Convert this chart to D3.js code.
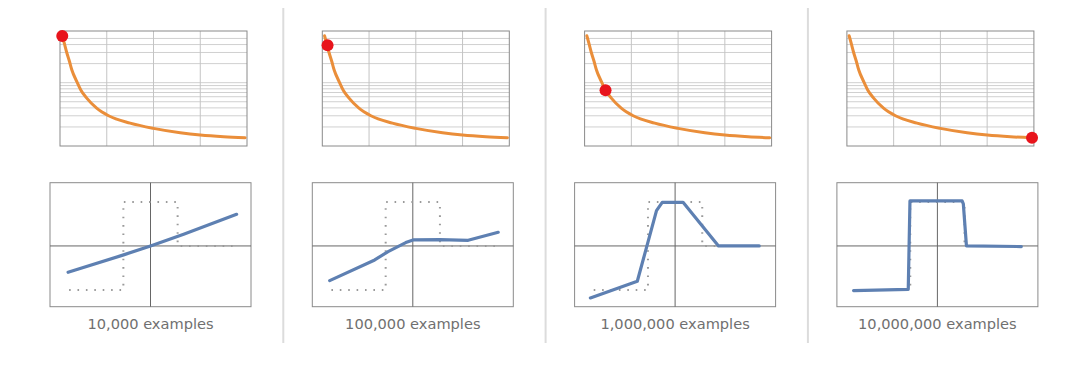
<!DOCTYPE html>
<html>
<head>
<meta charset="utf-8">
<script src="https://cdn.jsdelivr.net/npm/d3@7"></script>
<style>
  body { margin: 0; background: #fff; }
  svg { display: block; }
</style>
</head>
<body>
<div id="chart"></div>
<script>
// panel captions
const captions = ['10,000 examples', '100,000 examples', '1,000,000 examples', '10,000,000 examples'];

// learning curve (top): training examples in millions vs. loss (log scale)
const curveX = [0.12, 0.25, 0.36, 0.5, 0.63, 0.9, 1.12, 1.43, 1.96, 2.6, 3.75, 5.0, 6.43, 7.5, 8.75, 9.9];
const curveY = [55, 40, 30, 22, 16, 10.4, 7.6, 5.7, 3.95, 3.0, 2.3, 1.9, 1.62, 1.49, 1.40, 1.35];

// where the red marker sits on the curve, per panel (millions)
const markerX = [0.12, 0.28, 1.12, 9.9];
const markerY = [54.6, 39, 7.6, 1.35];

// target function (dotted)
const targetX = [-0.81, -0.27, -0.27, 0.27, 0.27, 0.84];
const targetY = [-0.71, -0.71, 0.71, 0.71, 0, 0];

// learned fit (blue), one series per panel
const fitX = [
  [-0.82, -0.26, 0, 0.33, 0.857],
  [-0.827, -0.379, -0.246, -0.07, 0.003, 0.27, 0.551, 0.85],
  [-0.843, -0.376, -0.293, -0.185, -0.128, 0.079, 0.432, 0.837],
  [-0.834, -0.29, -0.273, 0.246, 0.258, 0.289, 0.835]
];
const fitY = [
  [-0.425, -0.14, 0, 0.19, 0.51],
  [-0.559, -0.226, -0.091, 0.054, 0.097, 0.102, 0.091, 0.22],
  [-0.839, -0.57, -0.075, 0.57, 0.704, 0.704, 0, 0],
  [-0.72, -0.70, 0.726, 0.726, 0.68, 0, -0.01]
];

const width = 1080, height = 370;
const step = 262.3;

const svg = d3.select('#chart').append('svg')
  .attr('width', width)
  .attr('height', height);

// separators between panels
for (let i = 0; i < 3; i++) {
  const sx = 283.3 + i * step;
  svg.append('line')
    .attr('x1', sx).attr('x2', sx)
    .attr('y1', 8).attr('y2', 343)
    .attr('stroke', '#dcdcdc')
    .attr('stroke-width', 2);
}

captions.forEach((caption, i) => {
  const ox = 50 + i * step;

  // ---- top: learning curve ----
  const tx = d3.scaleLinear().domain([0, 10]).range([ox + 10, ox + 197]);
  const ty = d3.scaleLog().domain([1, 65.5]).range([146, 31]);
  const top = svg.append('g');

  top.append('g')
    .selectAll('line')
    .data(ty.ticks().filter(t => t > 1 && t < 60))
    .join('line')
    .attr('x1', tx(0)).attr('x2', tx(10))
    .attr('y1', d => ty(d)).attr('y2', d => ty(d))
    .attr('stroke', '#d0d0d0');

  top.append('g')
    .selectAll('line')
    .data([2.5, 5, 7.5])
    .join('line')
    .attr('x1', d => tx(d)).attr('x2', d => tx(d))
    .attr('y1', ty(1)).attr('y2', ty(65.5))
    .attr('stroke', '#c4c4c4');

  top.append('rect')
    .attr('x', tx(0)).attr('y', ty(65.5))
    .attr('width', tx(10) - tx(0)).attr('height', ty(1) - ty(65.5))
    .attr('fill', 'none')
    .attr('stroke', '#8a8a8a');

  const curveLine = d3.line()
    .x((d, j) => tx(curveX[j]))
    .y((d, j) => ty(curveY[j]))
    .curve(d3.curveMonotoneX);

  top.append('path')
    .attr('d', curveLine(curveX))
    .attr('fill', 'none')
    .attr('stroke', '#ea8e3a')
    .attr('stroke-width', 3)
    .attr('stroke-linecap', 'round');

  top.append('circle')
    .attr('cx', tx(markerX[i]))
    .attr('cy', ty(markerY[i]))
    .attr('r', 6)
    .attr('fill', '#e8141c');

  // ---- bottom: target vs learned function ----
  const bx = d3.scaleLinear().domain([-1, 1]).range([ox, ox + 201]);
  const by = d3.scaleLinear().domain([-0.98, 1.02]).range([306.7, 182.7]);
  const bot = svg.append('g');

  bot.append('rect')
    .attr('x', bx(-1)).attr('y', by(1.02))
    .attr('width', bx(1) - bx(-1)).attr('height', by(-0.98) - by(1.02))
    .attr('fill', 'none')
    .attr('stroke', '#8a8a8a');

  bot.append('line')
    .attr('x1', bx(-1)).attr('x2', bx(1))
    .attr('y1', by(0)).attr('y2', by(0))
    .attr('stroke', '#666');
  bot.append('line')
    .attr('x1', bx(0)).attr('x2', bx(0))
    .attr('y1', by(-0.98)).attr('y2', by(1.02))
    .attr('stroke', '#666');

  const targetLine = d3.line()
    .x((d, j) => bx(targetX[j]))
    .y((d, j) => by(targetY[j]));

  bot.append('path')
    .attr('d', targetLine(targetX))
    .attr('fill', 'none')
    .attr('stroke', '#9a9a9a')
    .attr('stroke-width', 2)
    .attr('stroke-dasharray', '1.6,6.8');

  const fitLine = d3.line()
    .x((d, j) => bx(fitX[i][j]))
    .y((d, j) => by(fitY[i][j]));

  bot.append('path')
    .attr('d', fitLine(fitX[i]))
    .attr('fill', 'none')
    .attr('stroke', '#5e80b2')
    .attr('stroke-width', 3.2)
    .attr('stroke-linejoin', 'round')
    .attr('stroke-linecap', 'round');

  svg.append('text')
    .attr('x', bx(0))
    .attr('y', 329)
    .attr('text-anchor', 'middle')
    .attr('font-family', '"DejaVu Sans", Verdana, sans-serif')
    .attr('font-size', 14.6)
    .attr('fill', '#707070')
    .text(caption);
});
</script>
</body>
</html>
